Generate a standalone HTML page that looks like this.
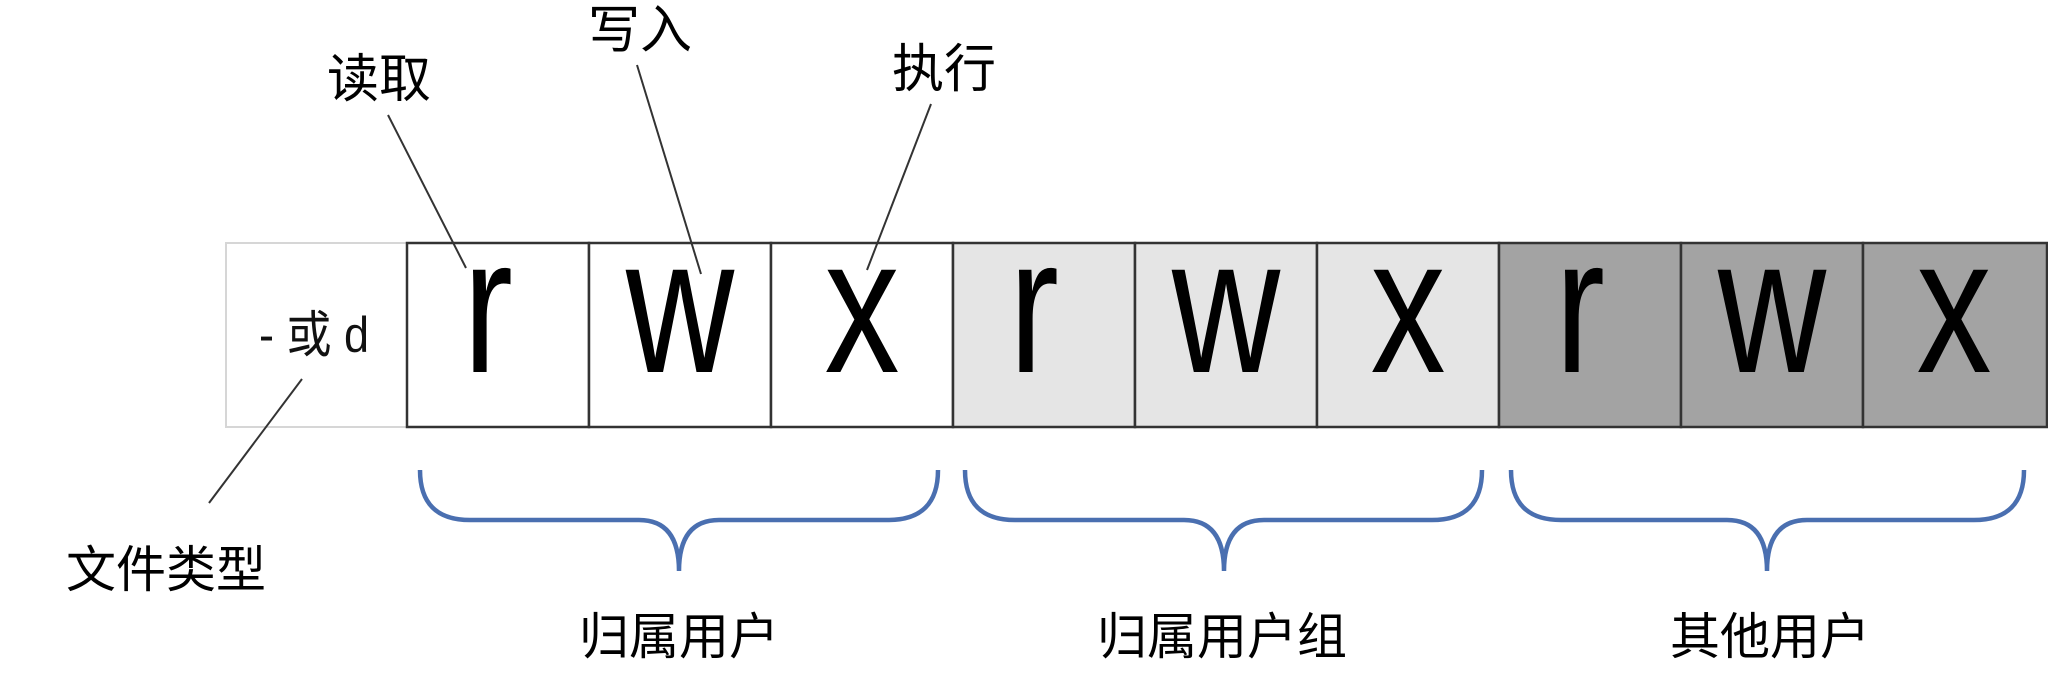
<!DOCTYPE html>
<html><head><meta charset="utf-8"><style>
html,body{margin:0;padding:0;background:#fff;}
svg{display:block}
text{font-family:"Liberation Sans","Noto Sans CJK SC",sans-serif;}
</style></head><body>
<svg width="2048" height="680" viewBox="0 0 2048 680" xmlns="http://www.w3.org/2000/svg">
<rect x="226" y="243" width="181" height="184" fill="#fff" stroke="#d6d6d6" stroke-width="2"/>
<text x="314" y="352" font-size="50" text-anchor="middle" fill="#111" transform="translate(314 352) scale(0.9 1) translate(-314 -352)">- 或 d</text>
<g stroke="#333" stroke-width="2.5">
<rect x="407" y="243" width="182" height="184" fill="#fff"/>
<rect x="589" y="243" width="182" height="184" fill="#fff"/>
<rect x="771" y="243" width="182" height="184" fill="#fff"/>
<rect x="953" y="243" width="182" height="184" fill="#e5e5e5"/>
<rect x="1135" y="243" width="182" height="184" fill="#e5e5e5"/>
<rect x="1317" y="243" width="182" height="184" fill="#e5e5e5"/>
<rect x="1499" y="243" width="182" height="184" fill="#a3a3a3"/>
<rect x="1681" y="243" width="182" height="184" fill="#a3a3a3"/>
<rect x="1863" y="243" width="184" height="184" fill="#a3a3a3"/>
</g>
<g font-size="150" text-anchor="middle" fill="#000" transform="translate(0 372) scale(1 1.29) translate(0 -372)">
<text x="488" y="372">r</text><text x="680" y="372">w</text><text x="862" y="372">x</text>
<text x="1034" y="372">r</text><text x="1226" y="372">w</text><text x="1408" y="372">x</text>
<text x="1580" y="372">r</text><text x="1772" y="372">w</text><text x="1954" y="372">x</text>
</g>
<g stroke="#333" stroke-width="2">
<line x1="388" y1="115" x2="466" y2="268"/>
<line x1="637" y1="65" x2="701" y2="274"/>
<line x1="931" y1="104" x2="867" y2="270"/>
<line x1="302" y1="379" x2="209" y2="503"/>
</g>
<g font-size="52" text-anchor="middle" fill="#000">
<text x="379" y="97">读取</text>
<text x="640" y="48">写入</text>
<text x="944" y="87">执行</text>
<text x="166" y="587" font-size="50">文件类型</text>
<text x="679" y="654" font-size="50">归属用户</text>
<text x="1222" y="654" font-size="50">归属用户组</text>
<text x="1770" y="654" font-size="50">其他用户</text>
</g>
<g fill="none" stroke="#4a6fb0" stroke-width="4.5">
<path d="M420 470 Q420 520 470 520 L639 520 Q679 520 679 571 Q679 520 719 520 L888 520 Q938 520 938 470"/>
<path d="M965 470 Q965 520 1015 520 L1184 520 Q1224 520 1224 571 Q1224 520 1264 520 L1432 520 Q1482 520 1482 470"/>
<path d="M1511 470 Q1511 520 1561 520 L1727 520 Q1767 520 1767 571 Q1767 520 1807 520 L1974 520 Q2024 520 2024 470"/>
</g>
</svg>
</body></html>
